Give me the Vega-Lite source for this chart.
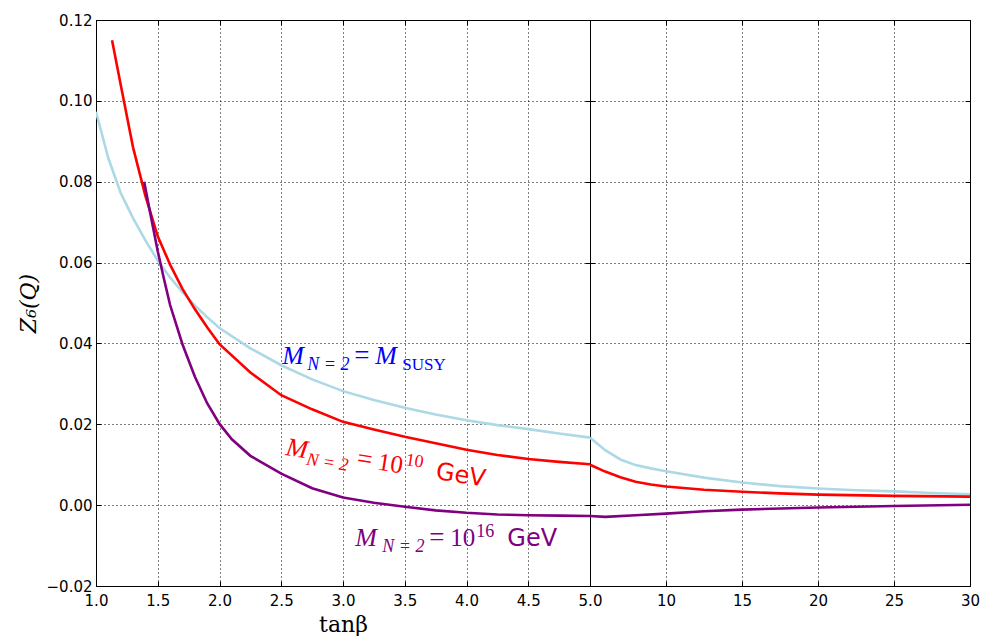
{
  "$schema": "https://vega.github.io/schema/vega-lite/v6.json",
  "padding": {"left": 16, "top": 12, "right": 5, "bottom": 0},
  "spacing": 0,
  "bounds": "flush",
  "background": "#ffffff",
  "config": {
    "view": {"stroke": "#000000", "strokeWidth": 1},
    "axis": {
      "labelFont": "DejaVu Sans",
      "labelFontSize": 15,
      "labelColor": "#000000",
      "labelFlush": false,
      "labelOverlap": false,
      "tickColor": "#000000",
      "tickSize": -5,
      "tickWidth": 1,
      "domain": false,
      "gridColor": "#000000",
      "gridDash": [1, 3],
      "gridOpacity": 1,
      "gridWidth": 1,
      "titleFont": "DejaVu Serif",
      "titleFontSize": 22,
      "titleFontWeight": "normal",
      "titleColor": "#000000"
    }
  },
  "datasets": {
    "low": [
      {"model": "susy", "tanb": 1.0, "z": 0.0973},
      {"model": "susy", "tanb": 1.1, "z": 0.0858},
      {"model": "susy", "tanb": 1.2, "z": 0.0772},
      {"model": "susy", "tanb": 1.3, "z": 0.0710},
      {"model": "susy", "tanb": 1.4, "z": 0.0655},
      {"model": "susy", "tanb": 1.5, "z": 0.0605},
      {"model": "susy", "tanb": 1.6, "z": 0.0563},
      {"model": "susy", "tanb": 1.7, "z": 0.0527},
      {"model": "susy", "tanb": 1.8, "z": 0.0494},
      {"model": "susy", "tanb": 1.9, "z": 0.0465},
      {"model": "susy", "tanb": 2.0, "z": 0.0438},
      {"model": "susy", "tanb": 2.25, "z": 0.0388},
      {"model": "susy", "tanb": 2.5, "z": 0.0346},
      {"model": "susy", "tanb": 2.75, "z": 0.0311},
      {"model": "susy", "tanb": 3.0, "z": 0.0282},
      {"model": "susy", "tanb": 3.25, "z": 0.0260},
      {"model": "susy", "tanb": 3.5, "z": 0.0241},
      {"model": "susy", "tanb": 3.75, "z": 0.0224},
      {"model": "susy", "tanb": 4.0, "z": 0.0210},
      {"model": "susy", "tanb": 4.25, "z": 0.0198},
      {"model": "susy", "tanb": 4.5, "z": 0.0188},
      {"model": "susy", "tanb": 4.75, "z": 0.0177},
      {"model": "susy", "tanb": 5.0, "z": 0.0167},
      {"model": "e10", "tanb": 1.13, "z": 0.1150},
      {"model": "e10", "tanb": 1.2, "z": 0.1040},
      {"model": "e10", "tanb": 1.3, "z": 0.0885},
      {"model": "e10", "tanb": 1.4, "z": 0.0765},
      {"model": "e10", "tanb": 1.5, "z": 0.0665},
      {"model": "e10", "tanb": 1.6, "z": 0.0595},
      {"model": "e10", "tanb": 1.7, "z": 0.0535},
      {"model": "e10", "tanb": 1.8, "z": 0.0485},
      {"model": "e10", "tanb": 1.9, "z": 0.0440},
      {"model": "e10", "tanb": 2.0, "z": 0.0398},
      {"model": "e10", "tanb": 2.25, "z": 0.0328},
      {"model": "e10", "tanb": 2.5, "z": 0.0272},
      {"model": "e10", "tanb": 2.75, "z": 0.0237},
      {"model": "e10", "tanb": 3.0, "z": 0.0206},
      {"model": "e10", "tanb": 3.25, "z": 0.0187},
      {"model": "e10", "tanb": 3.5, "z": 0.0169},
      {"model": "e10", "tanb": 3.75, "z": 0.0153},
      {"model": "e10", "tanb": 4.0, "z": 0.0137},
      {"model": "e10", "tanb": 4.25, "z": 0.0124},
      {"model": "e10", "tanb": 4.5, "z": 0.0114},
      {"model": "e10", "tanb": 4.75, "z": 0.0107},
      {"model": "e10", "tanb": 5.0, "z": 0.0101},
      {"model": "e16", "tanb": 1.39, "z": 0.0800},
      {"model": "e16", "tanb": 1.45, "z": 0.0705},
      {"model": "e16", "tanb": 1.5, "z": 0.0628},
      {"model": "e16", "tanb": 1.55, "z": 0.0560},
      {"model": "e16", "tanb": 1.6, "z": 0.0495},
      {"model": "e16", "tanb": 1.7, "z": 0.0398},
      {"model": "e16", "tanb": 1.8, "z": 0.0318},
      {"model": "e16", "tanb": 1.9, "z": 0.0252},
      {"model": "e16", "tanb": 2.0, "z": 0.0201},
      {"model": "e16", "tanb": 2.1, "z": 0.0163},
      {"model": "e16", "tanb": 2.25, "z": 0.0122},
      {"model": "e16", "tanb": 2.5, "z": 0.0078},
      {"model": "e16", "tanb": 2.75, "z": 0.0042},
      {"model": "e16", "tanb": 3.0, "z": 0.0019},
      {"model": "e16", "tanb": 3.25, "z": 0.0006},
      {"model": "e16", "tanb": 3.5, "z": -0.0004},
      {"model": "e16", "tanb": 3.75, "z": -0.0013},
      {"model": "e16", "tanb": 4.0, "z": -0.0019},
      {"model": "e16", "tanb": 4.25, "z": -0.0023},
      {"model": "e16", "tanb": 4.5, "z": -0.0025},
      {"model": "e16", "tanb": 4.75, "z": -0.0026},
      {"model": "e16", "tanb": 5.0, "z": -0.0027}
    ],
    "high": [
      {"model": "susy", "tanb": 5, "z": 0.0167},
      {"model": "susy", "tanb": 6, "z": 0.0136},
      {"model": "susy", "tanb": 7, "z": 0.0113},
      {"model": "susy", "tanb": 8, "z": 0.0099},
      {"model": "susy", "tanb": 9, "z": 0.0091},
      {"model": "susy", "tanb": 10, "z": 0.0084},
      {"model": "susy", "tanb": 12.5, "z": 0.0068},
      {"model": "susy", "tanb": 15, "z": 0.0056},
      {"model": "susy", "tanb": 17.5, "z": 0.0047},
      {"model": "susy", "tanb": 20, "z": 0.0041},
      {"model": "susy", "tanb": 22.5, "z": 0.0037},
      {"model": "susy", "tanb": 25, "z": 0.0034},
      {"model": "susy", "tanb": 27.5, "z": 0.0030},
      {"model": "susy", "tanb": 30, "z": 0.0027},
      {"model": "e10", "tanb": 5, "z": 0.0100},
      {"model": "e10", "tanb": 6, "z": 0.0083},
      {"model": "e10", "tanb": 7, "z": 0.0069},
      {"model": "e10", "tanb": 8, "z": 0.0058},
      {"model": "e10", "tanb": 9, "z": 0.0051},
      {"model": "e10", "tanb": 10, "z": 0.0046},
      {"model": "e10", "tanb": 12.5, "z": 0.0038},
      {"model": "e10", "tanb": 15, "z": 0.0033},
      {"model": "e10", "tanb": 17.5, "z": 0.0029},
      {"model": "e10", "tanb": 20, "z": 0.0026},
      {"model": "e10", "tanb": 25, "z": 0.0023},
      {"model": "e10", "tanb": 30, "z": 0.0021},
      {"model": "e16", "tanb": 5, "z": -0.0027},
      {"model": "e16", "tanb": 6, "z": -0.0029},
      {"model": "e16", "tanb": 8, "z": -0.0025},
      {"model": "e16", "tanb": 10, "z": -0.0021},
      {"model": "e16", "tanb": 12.5, "z": -0.0015},
      {"model": "e16", "tanb": 15, "z": -0.0011},
      {"model": "e16", "tanb": 20, "z": -0.0006},
      {"model": "e16", "tanb": 25, "z": -0.0002},
      {"model": "e16", "tanb": 30, "z": 0.0001}
    ]
  },
  "hconcat": [
    {
      "width": 494,
      "height": 566,
      "data": {"name": "low"},
      "resolve": {"axis": {"x": "independent", "y": "independent"}},
      "layer": [
        {
          "transform": [{"filter": "datum.model === 'susy'"}],
          "mark": {"type": "line", "color": "#add8e6", "strokeWidth": 2.6, "clip": true},
          "encoding": {
            "x": {"field": "tanb", "type": "quantitative",
                  "scale": {"domain": [1, 5], "nice": false, "zero": false},
                  "axis": {"orient": "bottom", "values": [1, 1.5, 2, 2.5, 3, 3.5, 4, 4.5, 5], "format": ".1f",
                           "title": "tanβ", "grid": true, "labelPadding": 12, "titlePadding": 6}},
            "y": {"field": "z", "type": "quantitative",
                  "scale": {"domain": [-0.02, 0.12], "nice": false, "zero": false},
                  "axis": {"orient": "left", "values": [-0.02, 0, 0.02, 0.04, 0.06, 0.08, 0.1, 0.12], "format": ".2f",
                           "title": "Z₆(Q)", "titleFontStyle": "italic", "grid": true, "labelPadding": 9, "titlePadding": 6}}
          }
        },
        {
          "transform": [{"filter": "datum.model === 'e10'"}],
          "mark": {"type": "line", "color": "#ff0000", "strokeWidth": 2.6, "clip": true},
          "encoding": {
            "x": {"field": "tanb", "type": "quantitative",
                  "axis": {"orient": "top", "values": [1, 1.5, 2, 2.5, 3, 3.5, 4, 4.5, 5], "labels": false, "title": null, "grid": false}},
            "y": {"field": "z", "type": "quantitative",
                  "axis": {"orient": "right", "values": [-0.02, 0, 0.02, 0.04, 0.06, 0.08, 0.1, 0.12], "labels": false, "title": null, "grid": false}}
          }
        },
        {
          "transform": [{"filter": "datum.model === 'e16'"}],
          "mark": {"type": "line", "color": "#800080", "strokeWidth": 2.6, "clip": true},
          "encoding": {
            "x": {"field": "tanb", "type": "quantitative", "axis": null},
            "y": {"field": "z", "type": "quantitative", "axis": null}
          }
        },
        {
          "data": {"values": [{}]},
          "encoding": {
            "x": {"datum": 2.5, "type": "quantitative", "axis": null},
            "y": {"datum": 0.035, "type": "quantitative", "axis": null}
          },
          "layer": [
            {"mark": {"type": "text", "text": "M", "font": "Liberation Serif", "fontStyle": "italic", "fontSize": 26, "color": "#0000ff", "align": "left", "baseline": "alphabetic", "dx": 1}},
            {"mark": {"type": "text", "text": "N = 2", "font": "Liberation Serif", "fontStyle": "italic", "fontSize": 18, "color": "#0000ff", "align": "left", "baseline": "alphabetic", "dx": 26, "dy": 6}},
            {"mark": {"type": "text", "text": "=", "font": "Liberation Serif", "fontSize": 27, "color": "#0000ff", "align": "left", "baseline": "alphabetic", "dx": 73}},
            {"mark": {"type": "text", "text": "M", "font": "Liberation Serif", "fontStyle": "italic", "fontSize": 26, "color": "#0000ff", "align": "left", "baseline": "alphabetic", "dx": 94}},
            {"mark": {"type": "text", "text": "SUSY", "font": "Liberation Serif", "fontSize": 17, "color": "#0000ff", "align": "left", "baseline": "alphabetic", "dx": 121, "dy": 6}}
          ]
        },
        {
          "data": {"values": [{}]},
          "encoding": {
            "x": {"datum": 2.53, "type": "quantitative", "axis": null},
            "y": {"datum": 0.0124, "type": "quantitative", "axis": null}
          },
          "layer": [
            {"mark": {"type": "text", "text": "M", "font": "Liberation Serif", "fontStyle": "italic", "fontSize": 26, "color": "#ff0000", "align": "left", "baseline": "alphabetic", "angle": 9, "dx": 0}},
            {"mark": {"type": "text", "text": "N = 2", "font": "Liberation Serif", "fontStyle": "italic", "fontSize": 18, "color": "#ff0000", "align": "left", "baseline": "alphabetic", "angle": 9, "dx": 22, "dy": 6}},
            {"mark": {"type": "text", "text": "=", "font": "Liberation Serif", "fontSize": 27, "color": "#ff0000", "align": "left", "baseline": "alphabetic", "angle": 9, "dx": 72}},
            {"mark": {"type": "text", "text": "10", "font": "Liberation Serif", "fontSize": 25, "color": "#ff0000", "align": "left", "baseline": "alphabetic", "angle": 9, "dx": 93}},
            {"mark": {"type": "text", "text": "10", "font": "Liberation Serif", "fontSize": 18, "color": "#ff0000", "align": "left", "baseline": "alphabetic", "angle": 9, "dx": 120, "dy": -9}},
            {"mark": {"type": "text", "text": "GeV", "font": "DejaVu Sans", "fontSize": 24, "color": "#ff0000", "align": "left", "baseline": "alphabetic", "angle": 9, "dx": 152}}
          ]
        },
        {
          "data": {"values": [{}]},
          "encoding": {
            "x": {"datum": 3.1, "type": "quantitative", "axis": null},
            "y": {"datum": -0.01, "type": "quantitative", "axis": null}
          },
          "layer": [
            {"mark": {"type": "text", "text": "M", "font": "Liberation Serif", "fontStyle": "italic", "fontSize": 26, "color": "#800080", "align": "left", "baseline": "alphabetic", "dx": 0}},
            {"mark": {"type": "text", "text": "N = 2", "font": "Liberation Serif", "fontStyle": "italic", "fontSize": 18, "color": "#800080", "align": "left", "baseline": "alphabetic", "dx": 27, "dy": 6}},
            {"mark": {"type": "text", "text": "=", "font": "Liberation Serif", "fontSize": 27, "color": "#800080", "align": "left", "baseline": "alphabetic", "dx": 74}},
            {"mark": {"type": "text", "text": "10", "font": "Liberation Serif", "fontSize": 25, "color": "#800080", "align": "left", "baseline": "alphabetic", "dx": 95}},
            {"mark": {"type": "text", "text": "16", "font": "Liberation Serif", "fontSize": 18, "color": "#800080", "align": "left", "baseline": "alphabetic", "dx": 121, "dy": -9}},
            {"mark": {"type": "text", "text": "GeV", "font": "DejaVu Sans", "fontSize": 24, "color": "#800080", "align": "left", "baseline": "alphabetic", "dx": 152}}
          ]
        }
      ]
    },
    {
      "width": 380,
      "height": 566,
      "data": {"name": "high"},
      "resolve": {"axis": {"x": "independent", "y": "independent"}},
      "layer": [
        {
          "transform": [{"filter": "datum.model === 'susy'"}],
          "mark": {"type": "line", "color": "#add8e6", "strokeWidth": 2.6, "clip": true},
          "encoding": {
            "x": {"field": "tanb", "type": "quantitative",
                  "scale": {"domain": [5, 30], "nice": false, "zero": false},
                  "axis": {"orient": "bottom", "values": [10, 15, 20, 25, 30], "format": "d",
                           "title": null, "grid": true, "labelPadding": 12}},
            "y": {"field": "z", "type": "quantitative",
                  "scale": {"domain": [-0.02, 0.12], "nice": false, "zero": false},
                  "axis": {"orient": "left", "values": [-0.02, 0, 0.02, 0.04, 0.06, 0.08, 0.1, 0.12],
                           "labels": false, "title": null, "grid": true}}
          }
        },
        {
          "transform": [{"filter": "datum.model === 'e10'"}],
          "mark": {"type": "line", "color": "#ff0000", "strokeWidth": 2.6, "clip": true},
          "encoding": {
            "x": {"field": "tanb", "type": "quantitative",
                  "axis": {"orient": "top", "values": [10, 15, 20, 25, 30], "labels": false, "title": null, "grid": false}},
            "y": {"field": "z", "type": "quantitative",
                  "axis": {"orient": "right", "values": [-0.02, 0, 0.02, 0.04, 0.06, 0.08, 0.1, 0.12], "labels": false, "title": null, "grid": false}}
          }
        },
        {
          "transform": [{"filter": "datum.model === 'e16'"}],
          "mark": {"type": "line", "color": "#800080", "strokeWidth": 2.6, "clip": true},
          "encoding": {
            "x": {"field": "tanb", "type": "quantitative", "axis": null},
            "y": {"field": "z", "type": "quantitative", "axis": null}
          }
        }
      ]
    }
  ]
}
